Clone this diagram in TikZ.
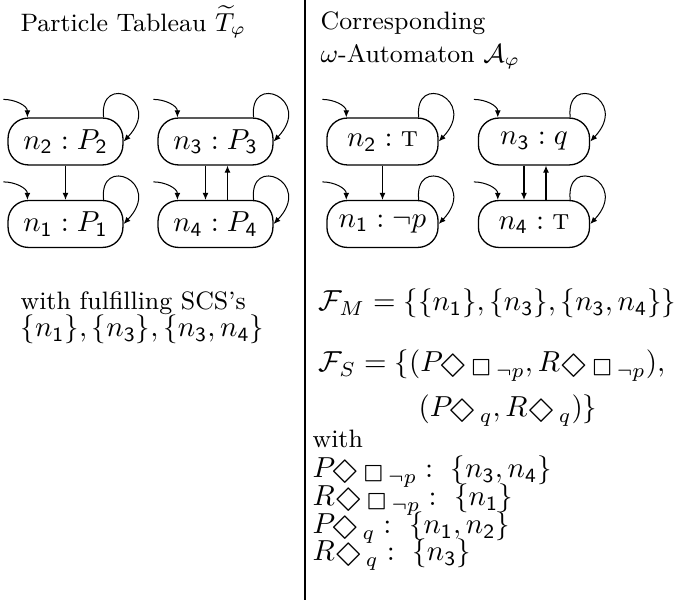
\documentclass[tikz,border=0pt]{standalone}
\usepackage{latexsym}
\usetikzlibrary{arrows.meta,calc}
\newcommand\mysizeT{\fontsize{8.7}{10.4}\selectfont}
\newcommand\mysizeM{\fontsize{10}{12}\selectfont}
\newcommand\dg[1]{\mathsf{#1}}
\newcommand\bigD{\mbox{\fontsize{12}{14}\selectfont$\Diamond$}}
\newcommand\bigB{\mbox{\fontsize{10}{12}\selectfont$\Box$}}
\newcommand\DB{\bigD\,\bigB\,{\neg p}}
\newcommand\Dq{\bigD\,q}
\begin{document}
\begin{tikzpicture}[x=0.3456pt,y=-0.3456pt,
  st/.style={draw, line width=0.45pt, rounded corners=7pt, minimum height=16.2pt, inner sep=0pt, font=\mysizeM},
  arr/.style={-{Latex[length=2.4pt,width=2pt]}, line width=0.35pt},
  txt/.style={anchor=base west, inner sep=0pt, font=\mysizeT},
  mtxt/.style={anchor=base west, inner sep=0pt, font=\mysizeM}]
\useasboundingbox (0,0) rectangle (682,607);
% divider
\coordinate (d1) at (305,0);
\coordinate (d2) at (305,600);
\draw[line width=0.4pt] (d1) -- (d2);
% titles
\node[txt] (t1) at (20,32) {Particle Tableau $\widetilde{T}_{\varphi}$};
\node[txt] (t2) at (320,30) {Corresponding};
\node[txt] (t3) at (320,63) {$\omega$-Automaton $\mathcal{A}_{\varphi}$};
% left automaton
\node[st, minimum width=39.7pt] (a2) at (65.5,141.5) {$n_{\dg2}:P_{\dg2}$};
\node[st, minimum width=39.7pt] (a1) at (65.5,224) {$n_{\dg1}:P_{\dg1}$};
\node[st, minimum width=39.7pt] (a3) at (215.5,141.5) {$n_{\dg3}:P_{\dg3}$};
\node[st, minimum width=39.7pt] (a4) at (215.5,224) {$n_{\dg4}:P_{\dg4}$};
% right automaton
\node[st, minimum width=38.4pt] (b2) at (382.5,141.5) {$n_{\dg2}:\textsc{t}$};
\node[st, minimum width=38.4pt] (b1) at (382.5,224) {$n_{\dg1}:\neg p$};
\node[st, minimum width=38.4pt] (b3) at (534,141.5) {$n_{\dg3}:q$};
\node[st, minimum width=38.4pt] (b4) at (534,224) {$n_{\dg4}:\textsc{t}$};
% initial arrows and self loops
\foreach \n in {a1,a2,a3,a4,b1,b2,b3,b4}{
  \draw[arr] ($(\n.north west)+(-4,-18)$) to[out=0,in=90] ($(\n.north west)+(20,0)$);
  \draw[arr] ($(\n.north east)+(-20,0)$) .. controls ($(\n.north east)+(-25,-46)$) and ($(\n.north east)+(40,-18)$) .. (\n.east);
}
% transitions
\draw[arr] (a2) -- (a1);
\draw[arr] ($(a3.south)+(-10,0)$) -- ($(a4.north)+(-10,0)$);
\draw[arr] ($(a4.north)+(12,0)$) -- ($(a3.south)+(12,0)$);
\draw[arr] (b2) -- (b1);
\draw[arr] ($(b3.south)+(-10,0)$) -- ($(b4.north)+(-10,0)$);
\draw[arr] ($(b4.north)+(12,0)$) -- ($(b3.south)+(12,0)$);
% left text
\node[txt] (l1) at (20,310) {with fulfilling SCS's};
\node[mtxt] (l2) at (20,337) {$\{n_{\dg1}\},\{n_{\dg3}\},\{n_{\dg3},n_{\dg4}\}$};
% right text
\node[mtxt] (r1) at (318,311) {$\mathcal{F}_M=\{\{n_{\dg1}\},\{n_{\dg3}\},\{n_{\dg3},n_{\dg4}\}\}$};
\node[mtxt] (r2) at (318,372) {$\mathcal{F}_S=\{(P_{\DB},R_{\DB}),$};
\node[mtxt] (r3) at (418,417) {$(P_{\Dq},R_{\Dq})\}$};
\node[txt] (r4) at (312,448) {with};
\node[mtxt] (r5) at (312,478) {$P_{\DB}:\ \{n_{\dg3},n_{\dg4}\}$};
\node[mtxt] (r6) at (312,506) {$R_{\DB}:\ \{n_{\dg1}\}$};
\node[mtxt] (r7) at (312,534) {$P_{\Dq}:\ \{n_{\dg1},n_{\dg2}\}$};
\node[mtxt] (r8) at (312,561) {$R_{\Dq}:\ \{n_{\dg3}\}$};
\end{tikzpicture}
\end{document}
